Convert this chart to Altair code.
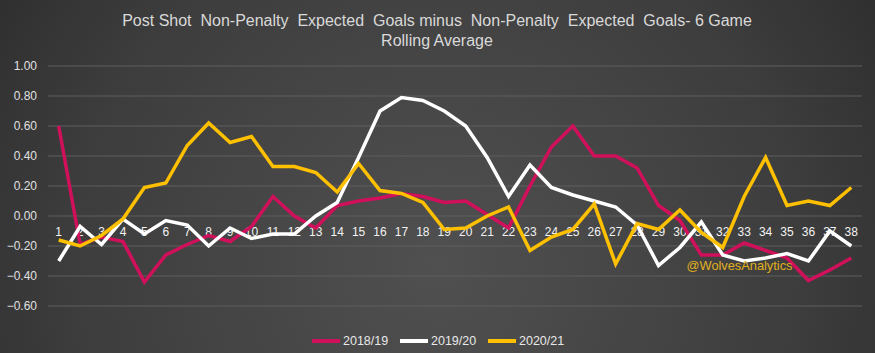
import altair as alt
import pandas as pd

games = list(range(1, 39))
s1819 = [0.60, -0.19, -0.14, -0.17, -0.44, -0.26, -0.19, -0.13, -0.17, -0.07,
         0.13, 0.00, -0.08, 0.07, 0.10, 0.12, 0.15, 0.13, 0.09, 0.10,
         0.01, -0.08, 0.20, 0.46, 0.60, 0.40, 0.40, 0.32, 0.07, -0.03,
         -0.26, -0.26, -0.18, -0.23, -0.28, -0.43, -0.36, -0.28]
s1920 = [-0.30, -0.07, -0.19, -0.02, -0.12, -0.03, -0.06, -0.20, -0.08, -0.15,
         -0.12, -0.12, 0.00, 0.09, 0.39, 0.70, 0.79, 0.77, 0.70, 0.60,
         0.39, 0.13, 0.34, 0.19, 0.14, 0.10, 0.06, -0.06, -0.33, -0.21,
         -0.04, -0.26, -0.30, -0.28, -0.25, -0.30, -0.10, -0.20]
s2021 = [-0.16, -0.20, -0.13, -0.02, 0.19, 0.22, 0.47, 0.62, 0.49, 0.53,
         0.33, 0.33, 0.29, 0.16, 0.35, 0.17, 0.15, 0.09, -0.09, -0.08,
         0.00, 0.06, -0.23, -0.14, -0.09, 0.08, -0.32, -0.05, -0.09, 0.04,
         -0.11, -0.21, 0.13, 0.39, 0.07, 0.10, 0.07, 0.19]
seasons = ["2018/19", "2019/20", "2020/21"]
colors = ["#d0105a", "#ffffff", "#ffc000"]
y_ticks = [-0.6, -0.4, -0.2, 0.0, 0.2, 0.4, 0.6, 0.8, 1.0]
title_line1 = ("Post Shot\u00a0 Non-Penalty\u00a0 Expected\u00a0 Goals minus\u00a0 "
               "Non-Penalty\u00a0 Expected\u00a0 Goals- 6 Game")
title_line2 = "Rolling Average"
watermark = "@WolvesAnalytics"

rows = []
for name, vals in zip(seasons, [s1819, s1920, s2021]):
    for g, v in zip(games, vals):
        rows.append({"game": g, "value": v, "season": name})
df = pd.DataFrame(rows)
grid_df = pd.DataFrame({"tick": y_ticks})
lab_df = pd.DataFrame({"game": games, "zero": [0.0] * len(games)})

W, H = 814, 240
PL, PT = 48, 66
TOTAL_W, TOTAL_H = 875, 353
FONT = "Liberation Sans, Arial, sans-serif"

xscale = alt.Scale(type="point", padding=0.5, domain=games)
yscale = alt.Scale(domain=[-0.6, 1.0], nice=False)

bg = alt.Chart(pd.DataFrame({"a": [0]})).mark_rect(
    clip=False,
    fill=alt.Gradient(
        gradient="radial",
        stops=[alt.GradientStop(color="#505050", offset=0),
               alt.GradientStop(color="#3d3d3d", offset=0.55),
               alt.GradientStop(color="#232323", offset=1)],
        x1=0.5, y1=0.6, r1=0, x2=0.5, y2=0.6, r2=0.75,
    ),
).encode(
    x=alt.value(-PL), x2=alt.value(TOTAL_W - PL),
    y=alt.value(-PT), y2=alt.value(TOTAL_H - PT),
)

grid = alt.Chart(grid_df).mark_rule(color="#5e5e5e", strokeWidth=1).encode(
    y=alt.Y("tick:Q", scale=yscale, axis=None),
    x=alt.value(0), x2=alt.value(W),
)

ylabels = alt.Chart(grid_df).mark_text(
    color="#e0e0e0", fontSize=12, font=FONT, align="right", baseline="middle"
).encode(
    y=alt.Y("tick:Q", scale=yscale, axis=None),
    x=alt.value(-11),
    text=alt.Text("tick:Q", format=".2f"),
)

xlabels = alt.Chart(lab_df).mark_text(
    color="#f2f2f2", fontSize=12, font=FONT, baseline="middle", dy=16
).encode(
    x=alt.X("game:O", scale=xscale, axis=None),
    y=alt.Y("zero:Q", scale=yscale, axis=None),
    text="game:N",
)

lines = alt.Chart(df).mark_line(strokeWidth=3.5).encode(
    x=alt.X("game:O", scale=xscale, axis=None),
    y=alt.Y("value:Q", scale=yscale, axis=None),
    color=alt.Color("season:N", scale=alt.Scale(domain=seasons, range=colors),
                    legend=alt.Legend(title=None, orient="none", direction="horizontal",
                                      legendX=262, legendY=259, zindex=1,
                                      symbolType="stroke", symbolSize=784,
                                      symbolStrokeWidth=4, labelOffset=1,
                                      columnPadding=3, labelColor="#e8e8e8",
                                      labelFontSize=12.5, labelFont=FONT)),
)

wm = alt.Chart(pd.DataFrame({"t": [watermark]})).mark_text(
    color="#e0b020", fontSize=12.8, font=FONT, align="center", baseline="middle"
).encode(text="t:N", x=alt.value(739.5 - PL), y=alt.value(266 - PT))

t1 = alt.Chart(pd.DataFrame({"t": [title_line1]})).mark_text(
    color="#d9d9d9", fontSize=16, font=FONT, align="center", baseline="middle"
).encode(text="t:N", x=alt.value(437 - PL), y=alt.value(21 - PT))
t2 = alt.Chart(pd.DataFrame({"t": [title_line2]})).mark_text(
    color="#d9d9d9", fontSize=16, font=FONT, align="center", baseline="middle"
).encode(text="t:N", x=alt.value(437 - PL), y=alt.value(41 - PT))

chart = alt.layer(bg, grid, ylabels, xlabels, lines, wm, t1, t2).properties(
    width=W, height=H,
    autosize=alt.AutoSizeParams(type="none"),
    padding={"left": PL, "top": PT, "right": TOTAL_W - PL - W, "bottom": TOTAL_H - PT - H},
).configure_view(stroke=None).configure(background="#262626")

chart.save("out.html", embed_options={"renderer": "svg", "actions": False})
